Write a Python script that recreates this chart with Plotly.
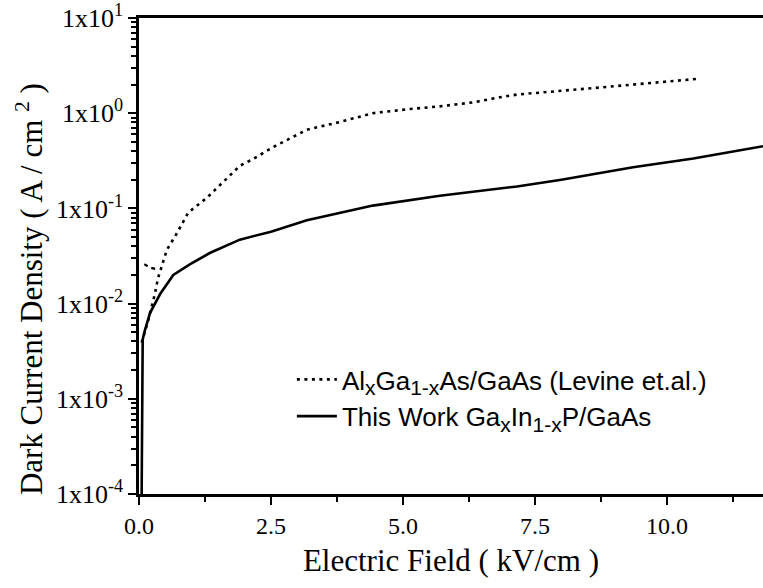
import plotly.graph_objects as go

# Electric field (kV/cm) and dark current density (A/cm^2)
this_work_field = [0.05, 0.055, 0.06, 0.07, 0.11, 0.21, 0.4, 0.65, 0.97, 1.34, 1.91, 2.5,
                   3.18, 4.43, 5.7, 6.84, 7.16, 8.0, 9.36, 10.5, 11.82]
this_work_current = [1e-4, 1e-3, 0.0028, 0.0042, 0.0052, 0.008, 0.0126, 0.02, 0.026, 0.034,
                     0.047, 0.057, 0.075, 0.107, 0.136, 0.16, 0.17, 0.2, 0.27, 0.335, 0.45]

levine_field = [0.05, 0.11, 0.17, 0.24, 0.3, 0.36, 0.43, 0.53, 0.72, 0.93, 1.29, 1.67, 1.91,
                2.16, 2.54, 3.18, 3.81, 4.43, 5.08, 5.7, 6.33, 6.84, 7.16, 8.73, 10.6]
levine_current = [0.0039, 0.005, 0.0065, 0.0093, 0.0126, 0.0185, 0.025, 0.037, 0.055, 0.09,
                  0.13, 0.21, 0.28, 0.33, 0.44, 0.67, 0.81, 1.0, 1.1, 1.18, 1.3, 1.47, 1.57,
                  1.86, 2.3]

# short low-field branch of the Levine curve
levine_hook_field = [0.1, 0.2, 0.33]
levine_hook_current = [0.026, 0.024, 0.023]

x_tick_vals = [0.0, 2.5, 5.0, 7.5, 10.0]
x_tick_text = ["0.0", "2.5", "5.0", "7.5", "10.0"]
y_tick_vals = [1e-4, 1e-3, 1e-2, 1e-1, 1e0, 1e1]
y_tick_text = ["1x10<sup>-4</sup>", "1x10<sup>-3</sup>", "1x10<sup>-2</sup>",
               "1x10<sup>-1</sup>", "1x10<sup>0</sup>", "1x10<sup>1</sup>"]

serif = "Liberation Serif, Times New Roman, serif"
sans = "Liberation Sans, Arial, sans-serif"


def sub(s):
    return "<sub><span style='font-size:21px'>" + s + "</span></sub>"


y_minor = [m * 10.0 ** e for e in range(-4, 1) for m in range(2, 10)]
x_minor = [1.25, 3.75, 6.25, 8.75, 11.25]

fig = go.Figure()
fig.add_trace(go.Scatter(
    x=levine_field, y=levine_current, mode="lines",
    line=dict(color="black", width=2.6, dash="3px,4.5px"),
    name="Al" + sub("x") + "Ga" + sub("1-x") + "As/GaAs (Levine et.al.)",
))
fig.add_trace(go.Scatter(
    x=levine_hook_field, y=levine_hook_current, mode="lines",
    line=dict(color="black", width=2.2, dash="4px,4px"),
    showlegend=False, hoverinfo="skip",
))
fig.add_trace(go.Scatter(
    x=this_work_field, y=this_work_current, mode="lines",
    line=dict(color="black", width=2.6),
    name="This Work Ga" + sub("x") + "In" + sub("1-x") + "P/GaAs",
))

fig.add_annotation(
    text="Dark Current Density ( A / cm <sup>2</sup> )",
    xref="paper", yref="paper", x=-0.175, y=0.43,
    xanchor="center", yanchor="middle", textangle=-90, showarrow=False,
    font=dict(family=serif, size=31, color="black"),
)

fig.update_layout(
    width=763, height=588,
    margin=dict(l=139, r=0, t=18, b=94),
    paper_bgcolor="white", plot_bgcolor="white",
    showlegend=True,
    legend=dict(
        x=0.245, y=0.29, xanchor="left", yanchor="top",
        font=dict(family=sans, size=26, color="black"),
        bgcolor="rgba(0,0,0,0)", tracegroupgap=0, itemwidth=40,
    ),
    xaxis=dict(
        range=[0, 11.82], showgrid=False, zeroline=False,
        showline=True, linecolor="black", linewidth=2.5, mirror=True,
        tickmode="array", tickvals=x_tick_vals, ticktext=x_tick_text,
        ticks="outside", ticklen=8, tickwidth=2, tickcolor="black",
        minor=dict(tickmode="array", tickvals=x_minor, ticks="outside",
                   ticklen=5, tickwidth=1.5, tickcolor="black"),
        tickfont=dict(family=serif, size=24, color="black"),
        ticklabeloverflow="allow",
        title=dict(text="Electric Field ( kV/cm )", standoff=12,
                   font=dict(family=serif, size=31, color="black")),
        automargin=False,
    ),
    yaxis=dict(
        type="log", range=[-4, 1], showgrid=False, zeroline=False,
        showline=True, linecolor="black", linewidth=2.5,
        tickmode="array", tickvals=y_tick_vals, ticktext=y_tick_text,
        ticks="outside", ticklen=8, tickwidth=2, tickcolor="black",
        minor=dict(tickmode="array", tickvals=y_minor, ticks="outside",
                   ticklen=5, tickwidth=1.5, tickcolor="black"),
        tickfont=dict(family=serif, size=26, color="black"),
        ticklabeloverflow="allow",
        automargin=False,
    ),
)

fig.write_html("out.html")
